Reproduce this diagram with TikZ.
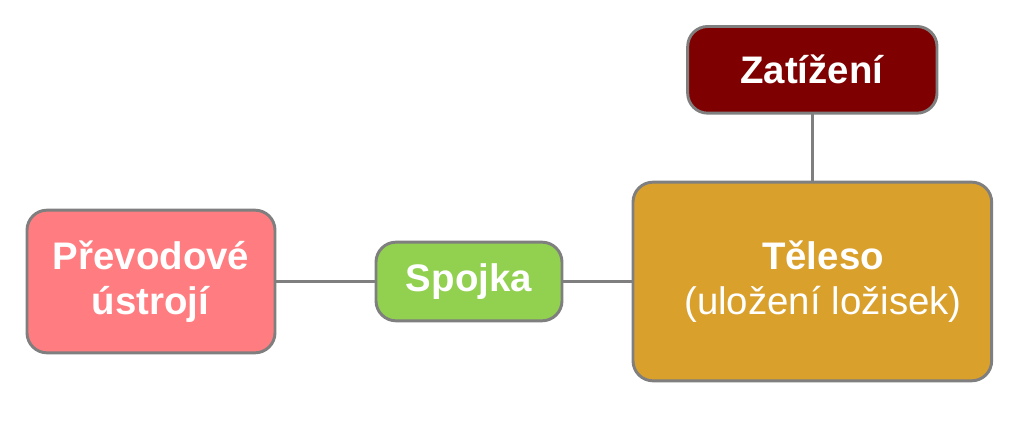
\documentclass[tikz,border=0pt]{standalone}
\usepackage{fontspec}
\setmainfont{Liberation Sans}
\usepackage{tikz}
\usetikzlibrary{positioning}
\definecolor{boxgrey}{HTML}{7F7F7F}
\definecolor{pinkfill}{HTML}{FF7C80}
\definecolor{greenfill}{HTML}{92D050}
\definecolor{goldfill}{HTML}{DAA02C}
\definecolor{redfill}{HTML}{7F0000}

\begin{document}
\begin{tikzpicture}[
  x=0.75pt, y=0.75pt,
  node distance=50pt,
  every node/.style={rectangle, rounded corners=15pt, draw=boxgrey, line width=2.2pt, inner sep=0pt,
    outer sep=0pt, text=white, align=center, font=\fontsize{28.8pt}{34pt}\selectfont},
  link/.style={draw=boxgrey, line width=2.4pt}
]
\useasboundingbox (0,0) rectangle (1024,445);
\node[fill=pinkfill, minimum width=186pt, minimum height=107pt] (prevod) at (151,163.5)
  {\textbf{Převodové}\\\textbf{ústrojí}};
\node[fill=greenfill, minimum width=139.5pt, minimum height=59pt, right=75.75pt of prevod] (spojka)
  {\textbf{Spojka}};
\node[fill=goldfill, minimum width=269pt, minimum height=149pt, right=53.25pt of spojka] (teleso)
  {\hspace*{16pt}\textbf{Těleso}\\\hspace*{16pt}(uložení ložisek)};
\node[fill=redfill, minimum width=187pt, minimum height=65pt, above=51.75pt of teleso] (zatizeni)
  {\textbf{Zatížení}};
% connectors
\draw[link] (prevod) -- (spojka);
\draw[link] (spojka) -- (teleso);
\draw[link] (zatizeni) -- (teleso);
\end{tikzpicture}
\end{document}
